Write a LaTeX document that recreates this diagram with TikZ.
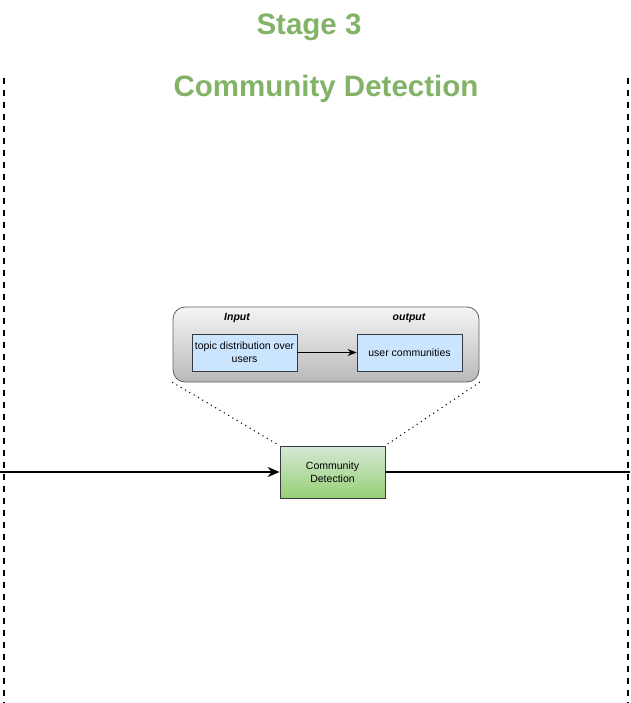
\documentclass[tikz,border=0pt]{standalone}
\usepackage{fontspec}
\setmainfont{Liberation Sans}
\usetikzlibrary{positioning,arrows.meta}
\definecolor{titlegreen}{HTML}{82B366}
\definecolor{boxblue}{HTML}{CCE5FF}
\definecolor{greentop}{HTML}{D5E8D4}
\definecolor{greenbot}{HTML}{97D077}
\definecolor{edgegray}{HTML}{36393D}
\begin{document}
\begin{tikzpicture}[
    x=1pt, y=-1pt,
    title/.style={
      font=\fontsize{29.5}{34}\selectfont\bfseries,
      text=titlegreen,
      inner sep=0pt
    },
    stagebox/.style={
      rectangle,
      draw=edgegray,
      line width=0.8pt,
      minimum width=105pt,
      minimum height=52pt,
      top color=greentop,
      bottom color=greenbot,
      align=center,
      font=\fontsize{10.5}{13}\selectfont
    },
    panel/.style={
      rectangle,
      rounded corners=12pt,
      draw=edgegray!80,
      line width=0.8pt,
      minimum width=306pt,
      minimum height=75pt,
      top color=gray!8,
      bottom color=gray!55
    },
    item/.style={
      rectangle,
      draw=edgegray,
      line width=0.8pt,
      fill=boxblue,
      minimum width=105pt,
      minimum height=37pt,
      inner sep=1pt,
      align=center,
      font=\fontsize{10.5}{13}\selectfont
    },
    tag/.style={
      font=\fontsize{10.5}{13}\selectfont\bfseries\itshape,
      inner sep=0pt
    },
    flow/.style={
      line width=2pt,
      -{Stealth[length=12pt,width=10pt]}
    },
    zoomline/.style={
      line width=1.5pt,
      line cap=round,
      dash pattern=on 0pt off 5pt
    }
  ]

    % Page frame
    \useasboundingbox (0,0) rectangle (630,703);

    % Titles
    \node[title] (stage) at (309,27) {Stage 3};
    \node[title] (name) at (326,89) {Community Detection};

    % Stage boundaries
    \coordinate (lefttop) at (4,78);
    \coordinate (leftbot) at (4,703);
    \coordinate (righttop) at (628,78);
    \coordinate (rightbot) at (628,703);
    \draw[line width=1.8pt, dash pattern=on 6pt off 6pt] (lefttop) -- (leftbot);
    \draw[line width=1.8pt, dash pattern=on 6pt off 6pt] (righttop) -- (rightbot);

    % Stage process
    \node[stagebox] (detect) at (332.5,472) {Community\\Detection};
    \coordinate (inflow) at (0,472);
    \coordinate (outflow) at (630,472);
    \draw[flow] (inflow) -- (detect.west);
    \draw[line width=2pt] (detect.east) -- (outflow);

    % Zoomed detail
    \node[panel] (detail) at (326,344.5) {};
    \node[tag] (intag) at (237,318) {Input};
    \node[tag] (outtag) at (409,318) {output};
    \node[item] (topics) at (244.5,352.5) {topic distribution over\\users};
    \node[item] (groups) at (409.5,352.5) {user communities};
    \draw[line width=1pt, -{Stealth[length=9pt,width=7pt]}] (topics) -- (groups);

    % Dotted zoom lines
    \draw[zoomline] (detail.south west) -- (detect.north west);
    \draw[zoomline] (detail.south east) -- (detect.north east);

  \end{tikzpicture}
\end{document}
